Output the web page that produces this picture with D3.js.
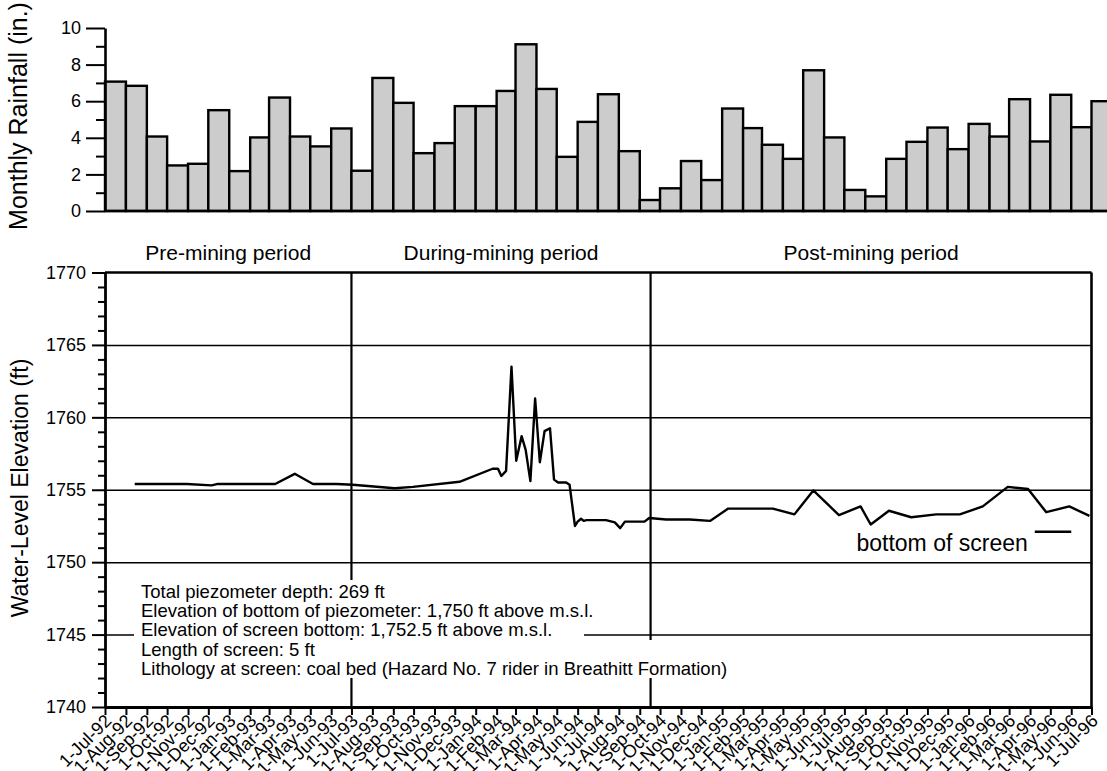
<!DOCTYPE html>
<html><head><meta charset="utf-8">
<script src="https://cdn.jsdelivr.net/npm/d3@7"></script>
<style>
body{margin:0;background:#fff}
svg{display:block}
text{font-family:"Liberation Sans",Arial,Helvetica,sans-serif;fill:#000}
</style>
</head><body>
<svg id="chart" width="1107" height="771"></svg>
<script>
// ---------- DATA ----------
const months = ["1-Jul-92","1-Aug-92","1-Sep-92","1-Oct-92","1-Nov-92","1-Dec-92",
"1-Jan-93","1-Feb-93","1-Mar-93","1-Apr-93","1-May-93","1-Jun-93","1-Jul-93","1-Aug-93","1-Sep-93","1-Oct-93","1-Nov-93","1-Dec-93",
"1-Jan-94","1-Feb-94","1-Mar-94","1-Apr-94","1-May-94","1-Jun-94","1-Jul-94","1-Aug-94","1-Sep-94","1-Oct-94","1-Nov-94","1-Dec-94",
"1-Jan-95","1-Feb-95","1-Mar-95","1-Apr-95","1-May-95","1-Jun-95","1-Jul-95","1-Aug-95","1-Sep-95","1-Oct-95","1-Nov-95","1-Dec-95",
"1-Jan-96","1-Feb-96","1-Mar-96","1-Apr-96","1-May-96","1-Jun-96","1-Jul-96"];

const rainfall = [7.07,6.84,4.07,2.49,2.58,5.51,
2.18,4.02,6.2,4.07,3.53,4.51,2.2,7.27,5.91,3.16,3.71,5.73,
5.73,6.56,9.11,6.67,2.96,4.87,6.38,3.27,0.6,1.24,2.73,1.69,
5.6,4.53,3.62,2.85,7.69,4.02,1.15,0.8,2.85,3.78,4.56,3.38,
4.76,4.07,6.11,3.8,6.35,4.58,6.0];

const levelDates = ["1992-08-14","1992-10-30","1992-12-06","1992-12-15","1993-03-10","1993-04-08","1993-05-05","1993-06-09",
"1993-07-03","1993-09-03","1993-09-30","1993-12-08","1994-01-26","1994-02-03","1994-02-08","1994-02-15","1994-02-23",
"1994-03-02","1994-03-10","1994-03-16","1994-03-23","1994-03-30","1994-04-06","1994-04-13","1994-04-21","1994-04-27",
"1994-05-03","1994-05-15","1994-05-20","1994-05-28","1994-06-01","1994-06-06","1994-06-10","1994-06-14","1994-07-13",
"1994-07-26","1994-08-03","1994-08-10","1994-09-08","1994-09-15","1994-10-10","1994-11-14","1994-12-14","1995-01-10",
"1995-03-17","1995-04-18","1995-05-16","1995-06-23","1995-07-25","1995-08-09","1995-09-05","1995-10-08","1995-11-14",
"1995-12-19","1996-01-22","1996-02-28","1996-03-29","1996-04-25","1996-05-29","1996-06-28"];

const levelValues = [1755.4,1755.4,1755.3,1755.4,1755.4,1756.1,1755.4,1755.4,
1755.35,1755.1,1755.2,1755.55,1756.45,1756.45,1755.95,1756.3,1763.5,
1757.0,1758.7,1757.75,1755.6,1761.3,1756.9,1759.05,1759.25,1755.7,
1755.5,1755.5,1755.35,1752.5,1752.8,1753.0,1752.85,1752.9,1752.9,
1752.75,1752.35,1752.8,1752.8,1753.05,1752.95,1752.95,1752.85,1753.7,
1753.7,1753.3,1754.95,1753.25,1753.85,1752.6,1753.55,1753.1,1753.3,
1753.3,1753.85,1755.2,1755.05,1753.45,1753.85,1753.2];

const rainMajorTicks = [0,2,4,6,8,10];
const rainMinorTicks = [1,3,5,7,9];
const levelMajorTicks = [1740,1745,1750,1755,1760,1765,1770];
const levelGridTicks = [1745,1750,1755,1760,1765];
const levelMinorTicks = d3.range(1741,1770).filter(v => v % 5 !== 0);

const periodNames = ["Pre-mining period","During-mining period","Post-mining period"];
const periodBounds = ["1992-07-01","1993-07-01","1994-09-17","1996-07-01"];

const notes = ["Total piezometer depth: 269 ft",
"Elevation of bottom of piezometer: 1,750 ft above m.s.l.",
"Elevation of screen bottom: 1,752.5 ft above m.s.l.",
"Length of screen: 5 ft",
"Lithology at screen: coal bed (Hazard No. 7 rider in Breathitt Formation)"];

const screenLabel = "bottom of screen";
const screenMark = {from:"1996-04-08", to:"1996-06-01", value:1752.1};

// ---------- SETUP ----------
const parseMonth = d3.timeParse("%d-%b-%y");
const parseDay = d3.timeParse("%Y-%m-%d");
const monthDates = months.map(parseMonth);

const svg = d3.select("#chart");
const W = 1107;
const xLeft = 105, xRight = 1091.5;
const x = d3.scaleTime().domain([monthDates[0], monthDates[monthDates.length-1]]).range([xLeft, xRight]);
const FONT = '"Liberation Sans",Arial,sans-serif';

// ---------- TOP: RAINFALL ----------
const yR = d3.scaleLinear().domain([0,10]).range([211, 28]);
const gTop = svg.append("g");

gTop.selectAll("rect.bar").data(rainfall).join("rect")
  .attr("class","bar")
  .attr("x",(d,i)=>x(monthDates[i]))
  .attr("width",(d,i)=>x(d3.timeMonth.offset(monthDates[i],1)) - x(monthDates[i]))
  .attr("y",d=>yR(d))
  .attr("height",d=>yR(0)-yR(d))
  .attr("fill","#cccccc").attr("stroke","#000").attr("stroke-width",2.4);

gTop.append("g").attr("transform",`translate(${xLeft},0)`)
  .call(d3.axisLeft(yR).tickValues(rainMinorTicks).tickSize(9).tickFormat(""))
  .call(g=>g.select(".domain").remove())
  .call(g=>g.selectAll("line").attr("stroke-width",2));
gTop.append("g").attr("transform",`translate(${xLeft},0)`)
  .call(d3.axisLeft(yR).tickValues(rainMajorTicks).tickSize(19).tickSizeOuter(0).tickPadding(5).tickFormat(d3.format("d")))
  .call(g=>g.select(".domain").attr("stroke-width",2.6))
  .call(g=>g.selectAll("line").attr("stroke-width",2))
  .call(g=>g.selectAll("text").attr("font-size",18).attr("font-family",FONT));
gTop.append("line").attr("x1",xLeft).attr("x2",W).attr("y1",yR(0)).attr("y2",yR(0))
  .attr("stroke","#000").attr("stroke-width",2.6);

gTop.append("text").attr("transform",`translate(27,116) rotate(-90)`)
  .attr("text-anchor","middle").attr("font-size",25).text("Monthly Rainfall (in.)");

// ---------- BOTTOM: WATER LEVEL ----------
const yL = d3.scaleLinear().domain([1740,1770]).range([707, 272.5]);
const gBot = svg.append("g");

gBot.append("g").attr("transform",`translate(${xLeft},0)`)
  .call(d3.axisLeft(yL).tickValues(levelGridTicks).tickSize(-(xRight-xLeft)).tickFormat(""))
  .call(g=>g.select(".domain").remove())
  .call(g=>g.selectAll("line").attr("stroke-width",1.5));

gBot.selectAll("line.div").data(periodBounds.slice(1,3)).join("line")
  .attr("class","div")
  .attr("x1",d=>x(parseDay(d))).attr("x2",d=>x(parseDay(d)))
  .attr("y1",yL(1770)).attr("y2",yL(1740))
  .attr("stroke","#000").attr("stroke-width",2.2);

gBot.append("rect").attr("x",134).attr("y",580).attr("width",450).attr("height",58).attr("fill","#fff");
gBot.append("rect").attr("x",134).attr("y",640).attr("width",620).attr("height",38).attr("fill","#fff");

gBot.selectAll("text.note").data(notes).join("text")
  .attr("class","note")
  .attr("x",141).attr("y",(d,i)=>598 + i*19.2)
  .attr("font-size",18.5).text(d=>d);

gBot.append("line").attr("x1",xLeft).attr("x2",xRight).attr("y1",yL(1770)).attr("y2",yL(1770)).attr("stroke","#000").attr("stroke-width",2.4);
gBot.append("line").attr("x1",xRight).attr("x2",xRight).attr("y1",yL(1770)).attr("y2",yL(1740)).attr("stroke","#000").attr("stroke-width",2.6);

gBot.append("g").attr("transform",`translate(${xLeft},0)`)
  .call(d3.axisLeft(yL).tickValues(levelMinorTicks).tickSize(7).tickFormat(""))
  .call(g=>g.select(".domain").remove())
  .call(g=>g.selectAll("line").attr("stroke-width",2));
gBot.append("g").attr("transform",`translate(${xLeft},0)`)
  .call(d3.axisLeft(yL).tickValues(levelMajorTicks).tickSize(13).tickSizeOuter(0).tickPadding(6).tickFormat(d3.format("d")))
  .call(g=>g.select(".domain").attr("stroke-width",2.8))
  .call(g=>g.selectAll("line").attr("stroke-width",2))
  .call(g=>g.selectAll("text").attr("font-size",18).attr("font-family",FONT));

gBot.append("g").attr("transform",`translate(0,${yL(1740)})`)
  .call(d3.axisBottom(x).tickValues(monthDates).tickSize(8).tickSizeOuter(0).tickFormat((d,i)=>months[i]))
  .call(g=>g.select(".domain").attr("stroke-width",2.8))
  .call(g=>g.selectAll("line").attr("stroke-width",2))
  .call(g=>g.selectAll("text")
      .attr("font-size",18).attr("font-family",FONT)
      .attr("text-anchor","end").attr("x",0).attr("y",0).attr("dy",0)
      .attr("transform","translate(7,15) rotate(-45)"));

const pts = levelDates.map((d,i)=>[parseDay(d), levelValues[i]]);
gBot.append("path").datum(pts)
  .attr("fill","none").attr("stroke","#000").attr("stroke-width",2.4).attr("stroke-linejoin","round")
  .attr("d", d3.line().x(d=>x(d[0])).y(d=>yL(d[1])));

gBot.append("line")
  .attr("x1",x(parseDay(screenMark.from))).attr("x2",x(parseDay(screenMark.to)))
  .attr("y1",yL(screenMark.value)).attr("y2",yL(screenMark.value))
  .attr("stroke","#000").attr("stroke-width",2.4);
gBot.append("text").attr("x",x(parseDay(screenMark.from)) - 7).attr("y",yL(screenMark.value)+19)
  .attr("text-anchor","end").attr("font-size",23).text(screenLabel);

gBot.selectAll("text.period").data(periodNames).join("text")
  .attr("class","period")
  .attr("x",(d,i)=>(x(parseDay(periodBounds[i])) + x(parseDay(periodBounds[i+1])))/2)
  .attr("y",260).attr("text-anchor","middle").attr("font-size",21).text(d=>d);

gBot.append("text").attr("transform",`translate(28,488) rotate(-90)`)
  .attr("text-anchor","middle").attr("font-size",23).text("Water-Level Elevation (ft)");
</script>
</body></html>
